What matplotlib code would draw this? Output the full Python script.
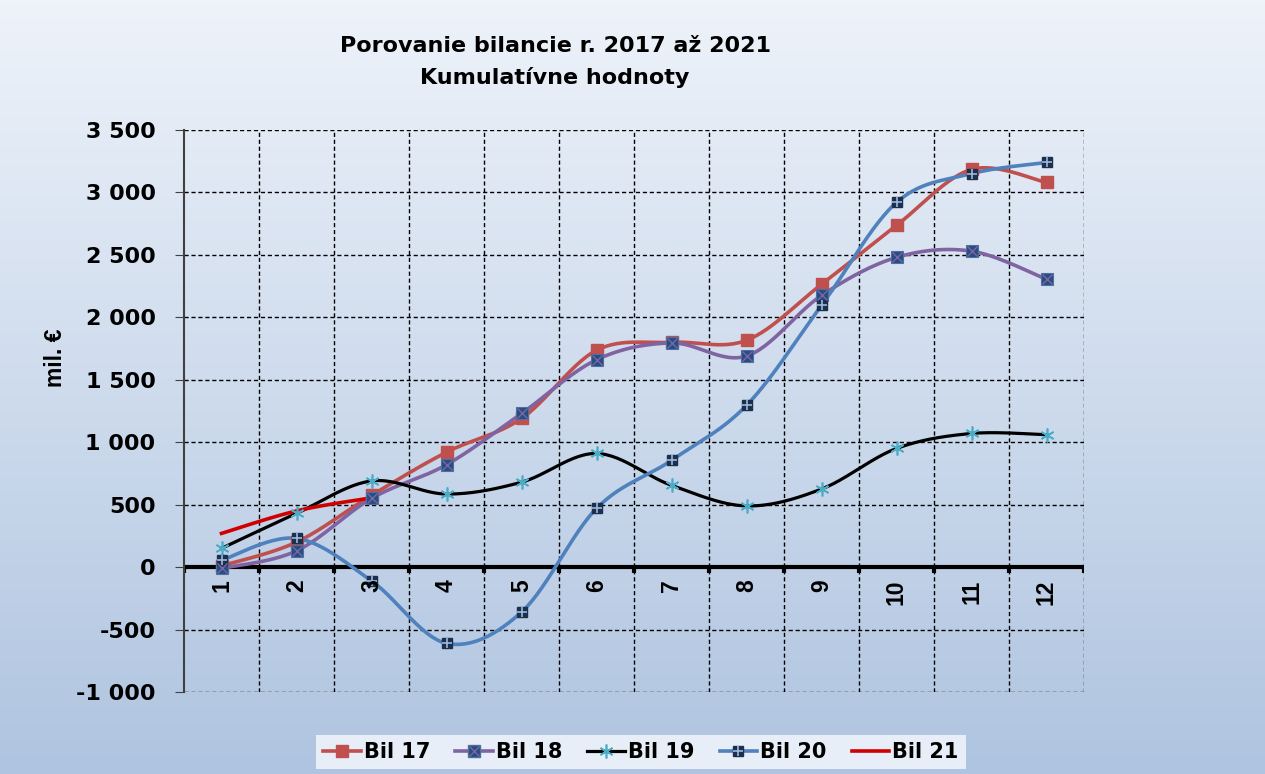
import numpy as np
import matplotlib
matplotlib.use("Agg")
import matplotlib.pyplot as plt
from matplotlib.lines import Line2D
from matplotlib.legend_handler import HandlerTuple
from matplotlib.colors import LinearSegmentedColormap

plt.rcParams['font.family'] = ['DejaVu Sans']
plt.rcParams['font.weight'] = 'bold'
ROT_FONT = ['Liberation Sans', 'DejaVu Sans']

months = [str(i) for i in range(1, 13)]
bil17 = [10, 200, 575, 920, 1190, 1736, 1800, 1816, 2264, 2736, 3184, 3080]
bil18 = [-10, 130, 550, 820, 1230, 1660, 1795, 1690, 2175, 2480, 2530, 2305]
bil19 = [150, 430, 690, 585, 680, 910, 655, 490, 625, 950, 1070, 1060]
bil20 = [55, 230, -110, -610, -360, 470, 855, 1295, 2095, 2920, 3150, 3240]
bil21 = [270, 450, 555]
yticks = [-1000, -500, 0, 500, 1000, 1500, 2000, 2500, 3000, 3500]
ytick_labels = ['-1 000', '-500', '0', '500', '1 000', '1 500', '2 000', '2 500', '3 000', '3 500']


def smooth(xs, ys, n=30):
    """Excel-like smoothed line (Catmull-Rom Bezier) through the given points."""
    xs = np.asarray(xs, float)
    ys = np.asarray(ys, float)
    if len(xs) < 3:
        return xs, ys
    P = np.column_stack([xs, ys])
    Pe = np.vstack([P[0], P, P[-1]])
    out = []
    t = np.linspace(0, 1, n)
    for i in range(len(P) - 1):
        p0, p1, p2, p3 = Pe[i], Pe[i + 1], Pe[i + 2], Pe[i + 3]
        c1 = p1 + (p2 - p0) / 6.0
        c2 = p2 - (p3 - p1) / 6.0
        seg = ((1 - t)[:, None] ** 3 * p1 + 3 * ((1 - t) ** 2 * t)[:, None] * c1
               + 3 * ((1 - t) * t ** 2)[:, None] * c2 + (t ** 3)[:, None] * p2)
        out.append(seg if i == 0 else seg[1:])
    S = np.vstack(out)
    return S[:, 0], S[:, 1]


fig = plt.figure(figsize=(12.65, 7.74), dpi=100)

# background gradient
bg = fig.add_axes([0, 0, 1, 1], zorder=-10)
cmap = LinearSegmentedColormap.from_list('bg', ['#AFC4E0', '#EEF3FA'])
grad = np.linspace(0, 1, 256)[:, None]
bg.imshow(grad, aspect='auto', cmap=cmap, origin='lower', extent=[0, 1, 0, 1])
bg.set_axis_off()

ax = fig.add_axes([184 / 1265, 82 / 774, 900 / 1265, 562 / 774])
ax.patch.set_alpha(0)

x = np.arange(1, 13)

c17, c18, c19, c20, c21 = '#C0504D', '#8064A2', '#000000', '#4F81BD', '#D00000'
lw = 2.6

sx, sy = smooth(x, bil17)
ax.plot(sx, sy, color=c17, lw=lw, zorder=3)
ax.plot(x, bil17, ls='none', marker='s', ms=8, mfc=c17, mec=c17, zorder=4)

sx, sy = smooth(x, bil18)
ax.plot(sx, sy, color=c18, lw=lw, zorder=3)
ax.plot(x, bil18, ls='none', marker='s', ms=8, mfc='#254E82', mec='#4F6FA0', mew=0.8, zorder=4)
ax.plot(x, bil18, ls='none', marker='x', ms=7, mec=c18, mew=1.0, zorder=5)

sx, sy = smooth(x, bil19)
ax.plot(sx, sy, color=c19, lw=2.3, zorder=3)
ax.plot(x, bil19, ls='none', marker=(6, 2, 0), ms=10, mec='#4BACC6', mew=1.2, zorder=4)

sx, sy = smooth(x, bil20)
ax.plot(sx, sy, color=c20, lw=lw, zorder=3)
ax.plot(x, bil20, ls='none', marker='s', ms=6.5, mfc='#1B2F4F', mec='#1B2F4F', zorder=4)
ax.plot(x, bil20, ls='none', marker='+', ms=6.5, mec='#9FB8D8', mew=1.2, zorder=5)

sx, sy = smooth(x[:len(bil21)], bil21)
ax.plot(sx, sy, color=c21, lw=lw, zorder=3)

ax.set_xlim(0.5, 12.5)
ax.set_ylim(-1000, 3500)
ax.set_yticks(yticks)
ax.set_yticklabels(ytick_labels, fontsize=16, fontweight='bold')
ax.tick_params(axis='y', direction='out', length=6.5, width=0.8, color='#404040', pad=14)

# grid at category boundaries and value ticks
for b in np.arange(1.5, 13.0, 1.0):
    ax.axvline(b, color='black', ls=(0, (3, 2)), lw=1.0, zorder=1)
for yv in yticks:
    ax.axhline(yv, color='black', ls=(0, (3, 2)), lw=1.0, zorder=1)

ax.set_xticks([])
for s in ['top', 'right', 'bottom']:
    ax.spines[s].set_visible(False)
ax.spines['left'].set_color('#404040')
ax.spines['left'].set_linewidth(1.5)

# x axis at zero with tick marks
ax.axhline(0, color='black', lw=3, zorder=2)
for b in np.arange(0.5, 13.0, 1.0):
    ax.plot([b, b], [0, -45], color='black', lw=3, zorder=2, solid_capstyle='butt')
for xi, lab in zip(x, months):
    ax.text(xi, -100, lab, rotation=90, ha='center', va='top', fontsize=16.5,
            fontweight='bold', family=ROT_FONT, zorder=6)

fig.text(55 / 1265, 1 - 358 / 774, 'mil. €', rotation=90, ha='center', va='center',
         fontsize=16.5, fontweight='bold', family=ROT_FONT)

fig.text(555 / 1265, 1 - 46 / 774, 'Porovanie bilancie r. 2017 až 2021', ha='center', va='center',
         fontsize=16, fontweight='bold')
fig.text(555 / 1265, 1 - 78 / 774, 'Kumulatívne hodnoty', ha='center', va='center',
         fontsize=16, fontweight='bold')

h17 = Line2D([], [], color=c17, lw=lw, marker='s', ms=8, mfc=c17, mec=c17)
h18a = Line2D([], [], color=c18, lw=lw, marker='s', ms=8, mfc='#254E82', mec='#4F6FA0')
h18b = Line2D([], [], ls='none', marker='x', ms=7, mec=c18, mew=1.0)
h19 = Line2D([], [], color=c19, lw=2.3, marker=(6, 2, 0), ms=10, mec='#4BACC6', mew=1.2)
h20a = Line2D([], [], color=c20, lw=lw, marker='s', ms=6.5, mfc='#1B2F4F', mec='#1B2F4F')
h20b = Line2D([], [], ls='none', marker='+', ms=6.5, mec='#9FB8D8', mew=1.2)
h21 = Line2D([], [], color=c21, lw=lw)

leg = fig.legend([h17, (h18a, h18b), h19, (h20a, h20b), h21],
                 ['Bil 17', 'Bil 18', 'Bil 19', 'Bil 20', 'Bil 21'],
                 handler_map={tuple: HandlerTuple(ndivide=1)},
                 loc='center', bbox_to_anchor=(641 / 1265, 1 - 752 / 774), ncol=5,
                 prop={'size': 15, 'weight': 'bold'}, frameon=True, fancybox=False,
                 handlelength=1.8, handletextpad=0.15, columnspacing=1.2,
                 borderpad=0.35, borderaxespad=0.0)
leg.get_frame().set_facecolor('#E8EEF7')
leg.get_frame().set_edgecolor('none')
leg.get_frame().set_alpha(1)

fig.savefig('out.png', dpi=100)
